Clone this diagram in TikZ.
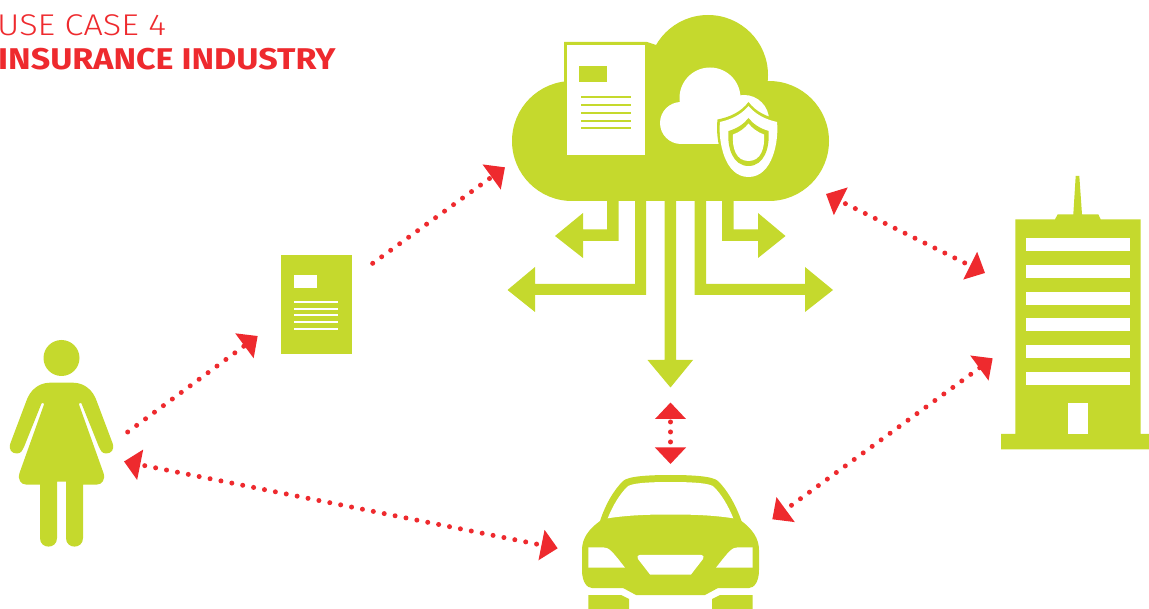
\documentclass[tikz,border=0pt]{standalone}
\usepackage{fontspec}
\setmainfont{Fira Sans}
\newfontfamily\lightfont{Fira Sans Light}
\usetikzlibrary{arrows.meta}
\definecolor{leaf}{HTML}{C5D92D}
\definecolor{signal}{HTML}{EE2A2E}
\tikzset{
  leaffill/.style={fill=leaf,draw=none},
  whitefill/.style={fill=white,draw=none},
  link/.style={draw=signal,line width=5pt,line cap=round,dash pattern=on 0pt off 11.1pt},
  bothtips/.style={{Triangle[length=16.5pt,width=30pt,color=signal]}-{Triangle[length=16.5pt,width=30pt,color=signal]}},
  endtip/.style={-{Triangle[length=16.5pt,width=30pt,color=signal]}},
  titletext/.style={text=signal,font=\fontsize{30pt}{32pt}\selectfont,anchor=base west,inner sep=0pt,transform shape}
}
\begin{document}
\begin{tikzpicture}[x=1pt,y=-1pt]
\useasboundingbox (0,0) rectangle (1149,609);
\clip (0,0) rectangle (1149,609);
% title
\node[titletext,xscale=1.14] (usecase) at (-3,36) {\lightfont USE CASE 4};
\node[titletext,xscale=1.135] (industry) at (-2,70) {\bfseries INSURANCE INDUSTRY};
% big cloud
\fill[leaf] (572,141) circle (60pt) (769,141) circle (60pt) (708,75) circle (60pt);
\fill[leaf] (572,81) rectangle (769,201.5);
\fill[leaf] (564,42) -- (647,42) -- (656,45) -- (690,90) -- (564,90) -- cycle;
% document in cloud
\path[whitefill] (566.7,45) rectangle (645,155);
\path[leaffill] (579,66) rectangle (607,82);
\foreach \ly in {97,105,113,121,128.5}{\path[leaffill] (581,\ly-1) rectangle (631,\ly+1);}
% small white cloud
\fill[white] (710,98) circle (30.5pt) (681,123) circle (21pt) (744,120) circle (25pt);
\fill[white] (681,110) rectangle (750,144);
% shield
\path[leaffill] (748.5,102) .. controls (741,112) and (730,117) .. (717.5,119.5) .. controls (715,140) and (722,177) .. (748.5,177) .. controls (775,177) and (782,140) .. (779.5,119.5) .. controls (767,117) and (756,112) .. (748.5,102) -- cycle;
\path[whitefill] (748.5,106) .. controls (741,115) and (731,119.5) .. (720,122) .. controls (718,140) and (724,177) .. (748.5,177) .. controls (773,177) and (779,140) .. (777,122) .. controls (766,119.5) and (756,115) .. (748.5,106) -- cycle;
\path[leaffill] (748.5,118) .. controls (744,124) and (737,128.5) .. (728.5,131) .. controls (727,148) and (733,166) .. (748.5,166) .. controls (764,166) and (770,148) .. (768.5,131) .. controls (760,128.5) and (753,124) .. (748.5,118) -- cycle;
\path[whitefill] (748.5,123.5) .. controls (745,128) and (740,132) .. (733,134.5) .. controls (732,148) and (736,161) .. (748.5,161) .. controls (761,161) and (765,148) .. (764,134.5) .. controls (757,132) and (752,128) .. (748.5,123.5) -- cycle;
% green arrows
\path[leaffill] (664.5,200) -- (676,200) -- (676,360) -- (693,360) -- (670.5,387.5) -- (647.5,360) -- (664.5,360) -- cycle;
\path[leaffill] (607,200) -- (618.5,200) -- (618.5,241) -- (583,241) -- (583,258) -- (555,236) -- (583,213) -- (583,229.5) -- (607,229.5) -- cycle;
\path[leaffill] (733.5,200) -- (722,200) -- (722,241) -- (758,241) -- (758,258) -- (785.5,236) -- (758,213) -- (758,229.5) -- (733.5,229.5) -- cycle;
\path[leaffill] (635,200) -- (646,200) -- (646,295) -- (535,295) -- (535,312) -- (507.5,290) -- (535,267) -- (535,284) -- (635,284) -- cycle;
\path[leaffill] (706,200) -- (694.5,200) -- (694.5,295) -- (805,295) -- (805,312) -- (833,290) -- (805,267) -- (805,284) -- (706,284) -- cycle;
% small document
\path[leaffill] (281,255) rectangle (351.7,353.7);
\path[whitefill] (293.7,275) rectangle (317.3,288.3);
\foreach \ly in {301.7,308.7,315.3,322,328.7}{\path[whitefill] (294.3,\ly-.9) rectangle (338.3,\ly+.9);}
% woman
\fill[leaf] (61.5,358) circle (18pt);
\path[leaffill] (50,382.7) -- (73,382.7) .. controls (85,382.7) and (93,391) .. (96.3,400) -- (112.5,443) .. controls (115,450) and (111,453.5) .. (106,453.5) .. controls (102,453.5) and (100,450) .. (99,447) -- (81.5,403.5) .. controls (80.8,402) and (78.5,402.5) .. (79,404.5) -- (103.5,473) .. controls (105.5,480) and (102,484.5) .. (97,484.5) -- (83,484.5) -- (83,538) .. controls (83,549.5) and (66,549.5) .. (66,538) -- (66,481.7) -- (57,481.7) -- (57,538) .. controls (57,549.5) and (40,549.5) .. (40,538) -- (40,484.5) -- (26,484.5) .. controls (21,484.5) and (17.5,480) .. (19.5,473) -- (44,404.5) .. controls (44.5,402.5) and (42.2,402) .. (41.5,403.5) -- (24,447) .. controls (23,450) and (21,453.5) .. (17,453.5) .. controls (12,453.5) and (8,450) .. (10.5,443) -- (26.7,400) .. controls (30,391) and (38,382.7) .. (50,382.7) -- cycle;
% building
\path[leaffill] (1075.7,176) -- (1079.3,176) -- (1082,214.3) -- (1098.3,214.3) -- (1100.7,219.3) -- (1140.7,219.3) -- (1140.7,434) -- (1149,434) -- (1149,449.3) -- (1001,449.3) -- (1001,434) -- (1015.3,434) -- (1015.3,219.3) -- (1055,219.3) -- (1057.7,214.3) -- (1073.3,214.3) -- cycle;
\foreach \wy in {237.7,264.7,291.7,318.3,345.3,372.3}{\path[whitefill] (1026,\wy) rectangle (1129.7,\wy+13);}
\path[whitefill] (1068,403.3) rectangle (1088,434);
% car
\path[leaffill] (600,521) .. controls (606,503) and (614,490) .. (623,481) .. controls (628,476) and (650,475) .. (670.5,475) .. controls (691,475) and (713,476) .. (718,481) .. controls (727,490) and (735,503) .. (741.5,521) .. controls (752,529) and (759,538) .. (759,550) -- (759,570) .. controls (759,582) and (754,588) .. (749,588) -- (718,588) -- (705,595) -- (636,595) -- (623,588) -- (592,588) .. controls (587,588) and (582,582) .. (582,570) -- (582,550) .. controls (582,538) and (589,529) .. (600,521) -- cycle;
\path[whitefill] (607.7,518.3) .. controls (613,505) and (620,494) .. (627,487) .. controls (630,483) and (650,482) .. (670.5,482) .. controls (691,482) and (711,483) .. (714,487) .. controls (721,494) and (728,505) .. (733.3,518.3) .. controls (712,515) and (691,514.5) .. (670.5,514.5) .. controls (650,514.5) and (629,515) .. (607.7,518.3) -- cycle;
\path[whitefill] (588.3,547.3) -- (603,547.3) .. controls (609,547.3) and (612,551) .. (625,567.7) -- (588.3,567.7) -- cycle;
\path[whitefill] (752.7,547.3) -- (738,547.3) .. controls (732,547.3) and (729,551) .. (716,567.7) -- (752.7,567.7) -- cycle;
\path[whitefill] (640,554.8) -- (701,554.8) .. controls (703.5,554.8) and (704.5,557) .. (703,559) -- (691,574.5) -- (650,574.5) -- (638,559) .. controls (636.5,557) and (637.5,554.8) .. (640,554.8) -- cycle;
\path[leaffill] (588.3,595) -- (621,595) -- (629,599) -- (629,612) -- (588.3,612) -- cycle;
\path[leaffill] (752.7,595) -- (720,595) -- (712,599) -- (712,612) -- (752.7,612) -- cycle;
% connector ends
\coordinate (womanOut) at (127.7,432);
\coordinate (docIn) at (257.7,336);
\coordinate (docOut) at (372.7,263.3);
\coordinate (cloudIn) at (505,167.3);
\coordinate (womanSide) at (124,461.5);
\coordinate (carLeft) at (557.7,548.3);
\coordinate (cloudSide) at (826,194);
\coordinate (buildingTop) at (985,273);
\coordinate (buildingLow) at (992.7,358.3);
\coordinate (carRight) at (772.3,519.3);
\coordinate (arrowEnd) at (670.5,402.5);
\coordinate (carTop) at (670.5,464);
% red connectors
\draw[link,endtip] (womanOut) -- (docIn);
\draw[link,endtip] (docOut) -- (cloudIn);
\draw[link,bothtips,dash phase=5.4pt] (womanSide) -- (carLeft);
\draw[link,bothtips,dash phase=4.9pt] (cloudSide) -- (buildingTop);
\draw[link,bothtips,dash phase=10.5pt] (buildingLow) -- (carRight);
\draw[link,bothtips,dash pattern=on 0pt off 10pt,dash phase=6pt] (arrowEnd) -- (carTop);
\end{tikzpicture}
\end{document}
